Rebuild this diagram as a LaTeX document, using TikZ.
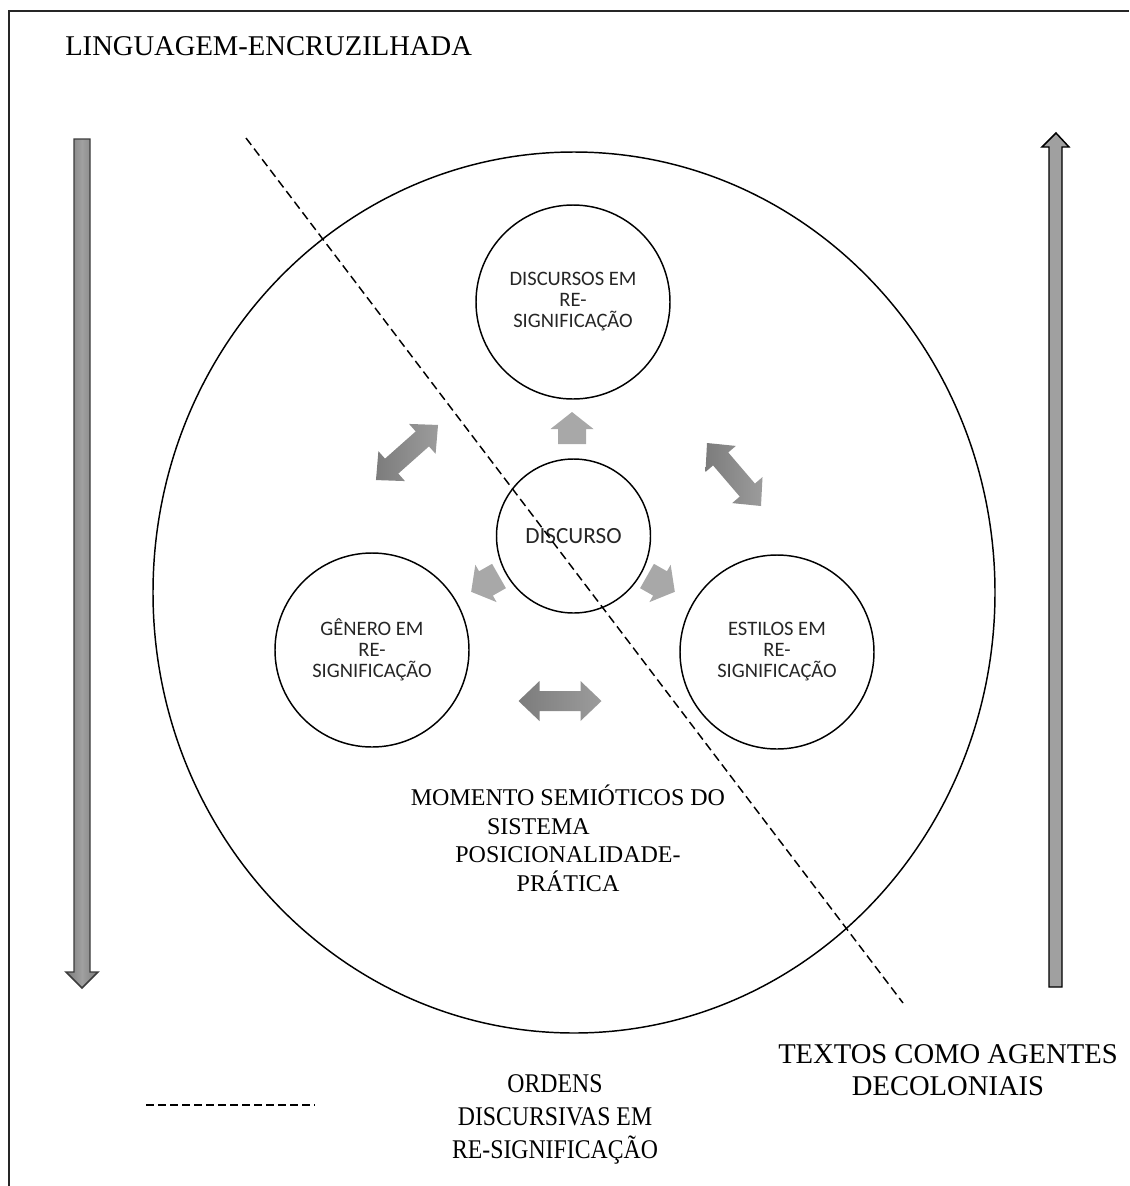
\documentclass[tikz,border=0pt]{standalone}
\usepackage{fontspec}
\setmainfont{Liberation Serif}
\newfontfamily\labelsans{Carlito}
\usetikzlibrary{shapes.geometric}
\definecolor{lightblock}{HTML}{A8A8A8}
\definecolor{darkblock}{HTML}{7C7C7C}
\definecolor{midblock}{HTML}{9C9C9C}
\definecolor{shaftgray}{HTML}{A0A0A0}
\definecolor{edgegray}{HTML}{3C3C3C}
\begin{document}
\begin{tikzpicture}[x=0.75pt,y=-0.75pt,
  ring/.style={circle, draw=black, line width=1.1pt, inner sep=0pt,
    minimum size=145.5pt, align=center,
    font=\labelsans\fontsize{15.4}{15.75}\selectfont, text=black!85},
  core/.style={ring, minimum size=115.5pt,
    font=\labelsans\fontsize{17.4}{18}\selectfont},
  bigtext/.style={font=\fontsize{21.45}{24.4}\selectfont, align=center, inner sep=0pt},
  midtext/.style={font=\fontsize{18}{21.4}\selectfont, align=center, inner sep=0pt},
  legendtext/.style={font=\fontsize{20.25}{24.75}\selectfont, align=center,
    inner sep=0pt, xscale=0.88, transform shape},
  cutline/.style={line width=1.1pt, dash pattern=on 6.5pt off 3.5pt},
  legendline/.style={line width=1pt, dash pattern=on 6pt off 3pt},
  oneway/.pic={
    \fill[lightblock] (0,-14) -- (15,-14) -- (15,-21.5) -- (32,0)
      -- (15,21.5) -- (15,14) -- (0,14) -- cycle;},
  twoway/.pic={
    \shade[left color=darkblock, right color=midblock]
      (-41.5,0) -- (-20.5,-20) -- (-20.5,-10) -- (20.5,-10) -- (20.5,-20)
      -- (41.5,0) -- (20.5,20) -- (20.5,10) -- (-20.5,10) -- (-20.5,20) -- cycle;}
]
\useasboundingbox (0,0) rectangle (1129,1186);

% page frame, open to the right and below
\draw[line width=1.6pt, black!85] (9,1186) -- (9,11) -- (1129,11);

% title
\node[bigtext, anchor=base west] (title) at (65,55) {LINGUAGEM-ENCRUZILHADA};

% side arrows
\shade[left color=darkblock, right color=darkblock, middle color=shaftgray,
       draw=edgegray, line width=1.1pt]
  (74,139) -- (90,139) -- (90,972) -- (98,972) -- (82,988) -- (66,972) -- (74,972) -- cycle;
\filldraw[fill=shaftgray, draw=black, line width=1.1pt]
  (1049,987) -- (1049,147) -- (1042,147) -- (1056,133) -- (1069,147) -- (1062,147) -- (1062,987) -- cycle;

% outer field
\node[ellipse, draw=black, line width=1.1pt, minimum width=631.5pt,
      minimum height=660.75pt, inner sep=0pt] (field) at (574,592.5) {};

% the three re-signified moments and the core
\node[ring] (discursos) at (573,302) {DISCURSOS EM\\RE-\\SIGNIFICAÇÃO};
\node[core] (discurso) at (573.5,536) {DISCURSO};
\node[ring] (genero) at (372,650) {GÊNERO EM\\RE-\\SIGNIFICAÇÃO};
\node[ring] (estilos) at (777,652) {ESTILOS EM\\RE-\\SIGNIFICAÇÃO};

% block arrows out of the core
\pic[rotate=90] (up) at (572,444) {oneway};
\pic[rotate=209.6] (toleft) at (499,576) {oneway};
\pic[rotate=-29.6] (toright) at (647,576) {oneway};

% block arrows between the moments
\pic[rotate=41.6] (ul) at (407,452.5) {twoway};
\pic[rotate=-49.4] (ur) at (734,474.5) {twoway};
\pic (low) at (560,701) {twoway};

% diagonal cut
\coordinate (cutA) at (246,138);
\coordinate (cutB) at (903,1003);
\draw[cutline] (cutA) -- (cutB);

% caption inside the field
\node[midtext] (momento) at (568,838.5)
  {MOMENTO SEMIÓTICOS DO\\\makebox[121.5pt][l]{SISTEMA}\\POSICIONALIDADE-\\PRÁTICA};

% lower captions and legend
\node[bigtext] (textos) at (948,1070) {TEXTOS COMO AGENTES\\DECOLONIAIS};
\node[legendtext] (ordens) at (555,1119) {ORDENS\\DISCURSIVAS EM\\RE-SIGNIFICAÇÃO};
\coordinate (legA) at (146,1105);
\coordinate (legB) at (315,1105);
\draw[legendline] (legA) -- (legB);
\end{tikzpicture}
\end{document}
